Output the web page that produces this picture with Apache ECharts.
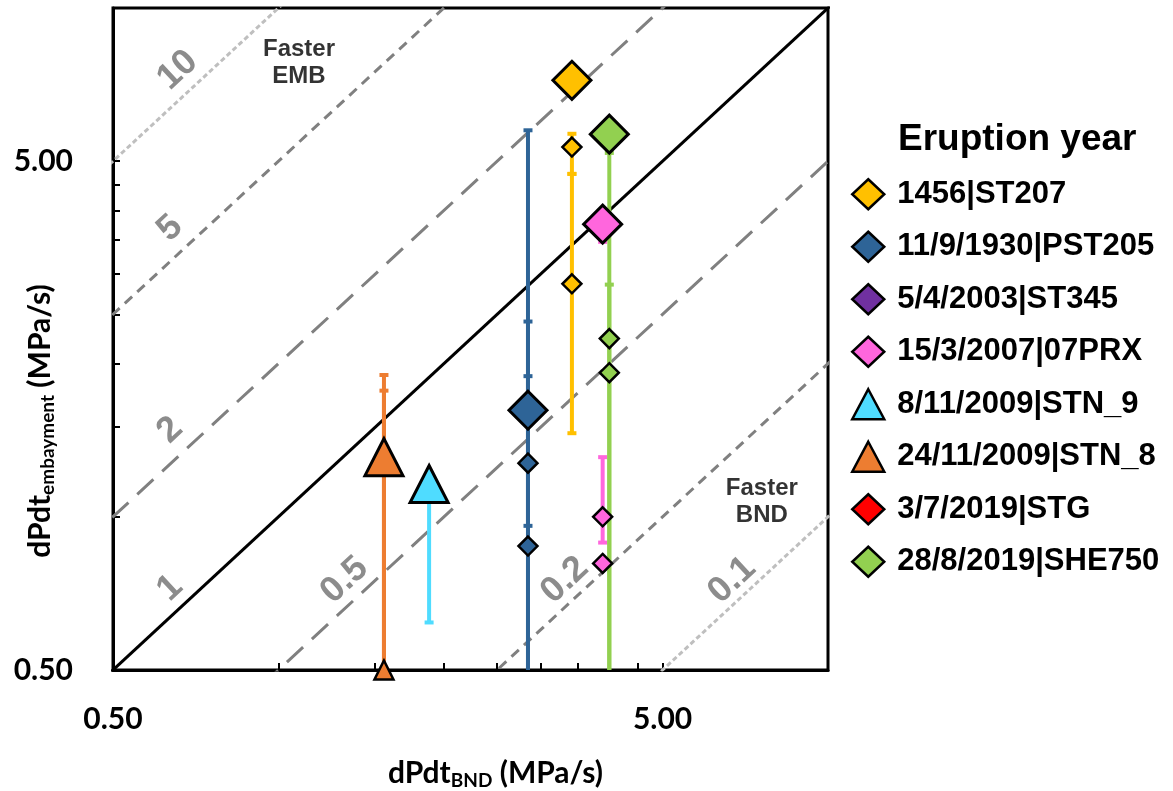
<!DOCTYPE html>
<html><head><meta charset="utf-8">
<script src="https://cdn.jsdelivr.net/npm/echarts@6/dist/echarts.min.js"></script>
<style>html,body{margin:0;padding:0;background:#fff}#chart{width:1173px;height:791px}</style>
</head><body><div id="chart"></div>
<script>
// ---- data ----
const names = ['1456|ST207', '11/9/1930|PST205', '5/4/2003|ST345', '15/3/2007|07PRX',
  '8/11/2009|STN_9', '24/11/2009|STN_8', '3/7/2019|STG', '28/8/2019|SHE750'];
const bndRate = [3.42, 2.845, null, 3.89, 1.88, 1.556, null, 4.0];          // dPdt_BND (MPa/s)
const embMain = [7.21, 1.62, null, 3.76, 1.16, 1.31, null, 5.65];           // main dPdt_embayment
const embOther = [[5.33, 2.87], [1.275, 0.876], [], [1.0, 0.81], [], [0.5], [], [2.24, 1.92]];
const embErr = [                                                             // [low, high] ranges
  [[4.72, 5.66], [1.46, 4.72]],
  [[0.45, 5.75], [0.96, 2.42], [0.45, 1.89]],
  [],
  [[3.47, 3.76], [0.89, 1.31]],
  [[0.62, 1.14]],
  [[0.45, 1.90], [0.45, 1.77]],
  [],
  [[0.45, 5.19], [0.45, 2.86]]
];
const ratios = [10, 5, 2, 1, 0.5, 0.2, 0.1];
const ratioLabels = ['10', '5', '2', '1', '0.5', '0.2', '0.1'];
const tickLabelValues = [0.5, 5];
const minorTickValues = [1, 1.5, 2, 2.5, 3, 3.5, 4, 4.5, 5];

// ---- styling / annotation placement ----
const colors = ['#FFC000', '#2E6497', '#7030A0', '#FF66DD', '#4FDCFF', '#ED7D31', '#FF0000', '#92D050'];
const symbols = ['diamond', 'diamond', 'diamond', 'diamond', 'triangle', 'triangle', 'diamond', 'diamond'];
const ratioLabelPos = [[0.656, 7.55], [0.635, 3.69], [0.635, 1.48], [0.635, 0.724], [1.32, 0.751], [3.32, 0.751], [6.69, 0.751]];
const ratioStyles = [
  {color: '#BFBFBF', type: [5, 3]}, {color: '#808080', type: [10, 7]}, {color: '#808080', type: [22, 12]},
  {color: '#000000', type: 'solid'},
  {color: '#808080', type: [22, 12]}, {color: '#808080', type: [10, 7]}, {color: '#BFBFBF', type: [5, 3]}
];
const notes = [{text: 'Faster\nEMB', pos: [1.09, 7.79]}, {text: 'Faster\nBND', pos: [7.58, 1.07]}];

const series = [];
// ratio lines
ratios.forEach((k, i) => {
  series.push({
    type: 'line', name: 'ratio' + k, silent: true, symbol: 'none', clip: true, z: 1,
    data: [[0.05, 0.05 * k], [20, 20 * k]],
    lineStyle: {color: ratioStyles[i].color, width: 3, type: ratioStyles[i].type}
  });
});
// ratio labels
series.push({
  type: 'scatter', name: 'ratioLabels', silent: true, symbolSize: 0, clip: false, z: 4,
  data: ratioLabels.map((t, i) => ({value: ratioLabelPos[i], name: t})),
  label: {show: true, position: 'inside', rotate: 42.8, formatter: p => p.name,
    fontFamily: 'Liberation Sans', fontWeight: 'bold', fontSize: 36, color: '#6F6F6F'}
});
// notes
series.push({
  type: 'scatter', name: 'notes', silent: true, symbolSize: 0, clip: false, z: 4,
  data: notes.map(n => ({value: n.pos, name: n.text})),
  label: {show: true, position: 'inside', formatter: p => p.name, lineHeight: 27,
    fontFamily: 'Liberation Sans', fontWeight: 'bold', fontSize: 24, color: '#000'}
});
// error bars
names.forEach((nm, i) => {
  if (!embErr[i].length) return;
  const c = colors[i];
  series.push({
    type: 'custom', name: 'err' + i, silent: true, clip: true, z: 2,
    data: embErr[i].map(r => [bndRate[i], r[0], r[1]]),
    encode: {x: 0, y: [1, 2]},
    renderItem: (params, api) => {
      const x = api.value(0), lo = api.value(1), hi = api.value(2);
      const a = api.coord([x, hi]), b = api.coord([x, lo]);
      const st = {stroke: c, lineWidth: 4};
      return {type: 'group', children: [
        {type: 'line', shape: {x1: a[0], y1: a[1], x2: b[0], y2: b[1]}, style: st},
        {type: 'line', shape: {x1: a[0] - 4.5, y1: a[1], x2: a[0] + 4.5, y2: a[1]}, style: st},
        {type: 'line', shape: {x1: b[0] - 4.5, y1: b[1], x2: b[0] + 4.5, y2: b[1]}, style: st}
      ]};
    }
  });
});
// markers
names.forEach((nm, i) => {
  const data = [];
  if (bndRate[i] != null) {
    embOther[i].forEach(v => data.push({value: [bndRate[i], v], symbolSize: 19, itemStyle: {borderWidth: 2.5}}));
    data.push({value: [bndRate[i], embMain[i]], symbolSize: symbols[i] === 'triangle' ? [38, 37] : 38, itemStyle: {borderWidth: 3}});
  }
  series.push({
    type: 'scatter', name: nm, symbol: symbols[i], clip: false, z: 3,
    itemStyle: {color: colors[i], borderColor: '#000', borderWidth: 3, opacity: 1},
    data
  });
});

const axisFont = {fontFamily: 'Lato', fontWeight: 'bold', color: '#000'};
const chart = echarts.init(document.getElementById('chart'), null, {renderer: 'canvas'});
chart.setOption({
  animation: false,
  backgroundColor: '#fff',
  grid: {left: 113, top: 8, right: 345, bottom: 121, show: true, borderColor: '#000', borderWidth: 3,
    containLabel: false, outerBoundsMode: 'none'},
  title: {text: 'Eruption year', left: 893, top: 116,
    textStyle: {fontFamily: 'Liberation Sans', fontWeight: 'bold', fontSize: 37, color: '#000'}},
  legend: {
    data: names, orient: 'vertical', left: 846, top: 173, itemWidth: 32, itemHeight: 30, itemGap: 20,
    itemStyle: {borderColor: '#000', borderWidth: 2.5},
    textStyle: {fontFamily: 'Liberation Sans', fontWeight: 'bold', fontSize: 31, color: '#000', lineHeight: 30, padding: [0, 0, 0, 8]},
    selectedMode: false
  },
  xAxis: {
    type: 'log', logBase: 10, min: 0.5, max: 10,
    name: '{a|dPdt}{b|BND}{a| (MPa/s)}', nameLocation: 'middle', nameGap: 86, nameMoveOverlap: false,
    nameTextStyle: {padding: [0, 0, 0, 50], rich: {a: Object.assign({fontSize: 30, lineHeight: 34}, axisFont), b: Object.assign({fontSize: 19, lineHeight: 18, verticalAlign: 'bottom'}, axisFont)}},
    axisLine: {show: true, lineStyle: {color: '#000', width: 3}},
    axisTick: {show: true, inside: true, length: 7, customValues: minorTickValues, lineStyle: {color: '#000', width: 2}},
    axisLabel: Object.assign({customValues: tickLabelValues, margin: 34, fontSize: 30, formatter: v => Number(v).toFixed(2)}, axisFont),
    splitLine: {show: false}, minorTick: {show: false}
  },
  yAxis: {
    type: 'log', logBase: 10, min: 0.5, max: 10,
    name: '{a|dPdt}{b|embayment}{a| (MPa/s)}', nameLocation: 'middle', nameGap: 56, nameMoveOverlap: false,
    nameTextStyle: {padding: [0, 164, 0, 0], rich: {a: Object.assign({fontSize: 30, lineHeight: 34}, axisFont), b: Object.assign({fontSize: 19, lineHeight: 18, verticalAlign: 'bottom'}, axisFont)}},
    axisLine: {show: true, lineStyle: {color: '#000', width: 3}},
    axisTick: {show: true, inside: true, length: 7, customValues: minorTickValues, lineStyle: {color: '#000', width: 2}},
    axisLabel: Object.assign({customValues: tickLabelValues, margin: 40, fontSize: 30, formatter: v => Number(v).toFixed(2)}, axisFont),
    splitLine: {show: false}, minorTick: {show: false}
  },
  series
});
</script></body></html>
